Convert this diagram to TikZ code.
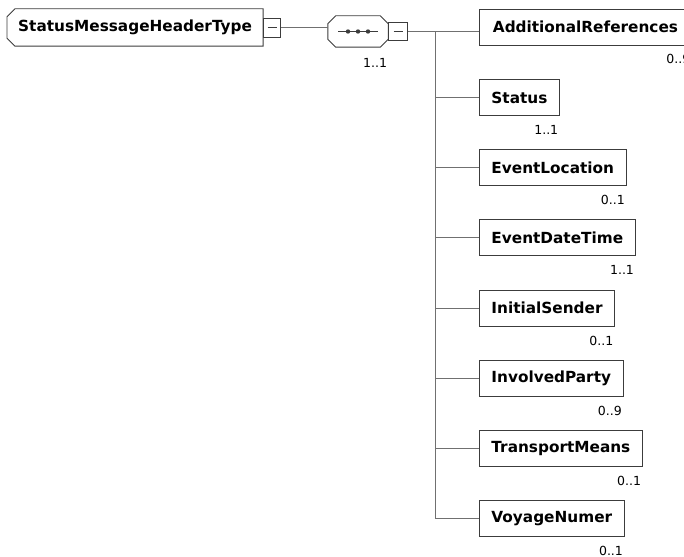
\documentclass[tikz,border=0pt]{standalone}
\usepackage{fontspec}
\usetikzlibrary{positioning,calc}
\newfontfamily\xsdfont{DejaVu Sans}
\definecolor{Frame}{HTML}{3C3C3C}
\definecolor{Wire}{HTML}{707070}

\tikzset{
  elembox/.style={draw=Frame,line width=0.9pt,anchor=west,inner xsep=12pt,inner ysep=0pt,
    minimum height=36pt,font=\xsdfont\bfseries\fontsize{15.3}{18}\selectfont},
  minusbox/.style={draw=Frame,line width=0.9pt,inner sep=0pt,anchor=west,
    path picture={\draw[Frame,line width=0.8pt] ([xshift=-4.5pt]path picture bounding box.center) -- ([xshift=4.5pt]path picture bounding box.center);}},
  card/.style={anchor=east,inner sep=0pt,font=\xsdfont\fontsize{12.5}{15}\selectfont},
  wire/.style={Wire,line width=0.9pt},
}

\begin{document}
\begin{tikzpicture}[x=1pt,y=-1pt]
\useasboundingbox (0,0) rectangle (684,556);

% complex type with chamfered left edge
\node[draw=none,anchor=west,inner xsep=11pt,inner ysep=0pt,minimum height=37pt,
  font=\xsdfont\bfseries\fontsize{15.3}{18}\selectfont] (msg) at (7,27.5) {StatusMessageHeaderType};
\draw[Frame,line width=0.9pt] ([xshift=8pt]msg.north west) -- (msg.north east) -- (msg.south east)
  -- ([xshift=8pt]msg.south west) -- ([yshift=8pt]msg.south west) -- ([yshift=-8pt]msg.north west) -- cycle;
\node[minusbox,minimum width=17pt,minimum height=19pt] (msgmin) at (msg.east) {};

% sequence compositor
\node[draw=none,minimum width=60pt,minimum height=31pt,inner sep=0pt] (seq) at (358,31.5) {};
\draw[Frame,line width=0.9pt] ([xshift=8pt]seq.north west) -- ([xshift=-8pt]seq.north east)
  -- ([yshift=-8pt]seq.north east) -- ([yshift=8pt]seq.south east) -- ([xshift=-8pt]seq.south east)
  -- ([xshift=8pt]seq.south west) -- ([yshift=8pt]seq.south west) -- ([yshift=-8pt]seq.north west) -- cycle;
\draw[Frame,line width=0.8pt] ([xshift=-20pt]seq.center) -- ([xshift=20pt]seq.center);
\foreach \dx in {-10,0,10}
  \fill[Frame] ([xshift=\dx pt]seq.center) circle (2.2pt);
\node[minusbox,minimum width=19pt,minimum height=18pt] (seqmin) at (seq.east) {};
\node[card] (seqcard) at ([yshift=-16pt,xshift=-1pt]seq.south east) {1..1};

\draw[wire] (msgmin.east) -- (msgmin.east -| seq.west);

% child elements
\node[elembox,minimum width=212pt] (addref) at (479,27) {AdditionalReferences};
\node[elembox] (status) at (479,97.5) {Status};
\node[elembox] (evloc) at (479,167.7) {EventLocation};
\node[elembox] (evdt) at (479,237.9) {EventDateTime};
\node[elembox] (initsnd) at (479,308.1) {InitialSender};
\node[elembox] (invparty) at (479,378.3) {InvolvedParty};
\node[elembox] (trmeans) at (479,448.5) {TransportMeans};
\node[elembox] (voyage) at (479,518.7) {VoyageNumer};

\node[card] at ([xshift=-1.5pt,yshift=-14pt]addref.south east) {0..9};
\node[card] at ([xshift=-1.5pt,yshift=-14pt]status.south east) {1..1};
\node[card] at ([xshift=-1.5pt,yshift=-14pt]evloc.south east) {0..1};
\node[card] at ([xshift=-1.5pt,yshift=-14pt]evdt.south east) {1..1};
\node[card] at ([xshift=-1.5pt,yshift=-14pt]initsnd.south east) {0..1};
\node[card] at ([xshift=-1.5pt,yshift=-14pt]invparty.south east) {0..9};
\node[card] at ([xshift=-1.5pt,yshift=-14pt]trmeans.south east) {0..1};
\node[card] at ([xshift=-1.5pt,yshift=-14pt]voyage.south east) {0..1};

% connectors
\coordinate (trunk) at ([xshift=27pt]seqmin.east);
\draw[wire] (seqmin.east) -- (trunk -| addref.west);
\draw[wire] (trunk) -- (trunk |- voyage.west);
\foreach \e in {status,evloc,evdt,initsnd,invparty,trmeans,voyage}
  \draw[wire] (trunk |- \e.west) -- (\e.west);
\end{tikzpicture}
\end{document}
